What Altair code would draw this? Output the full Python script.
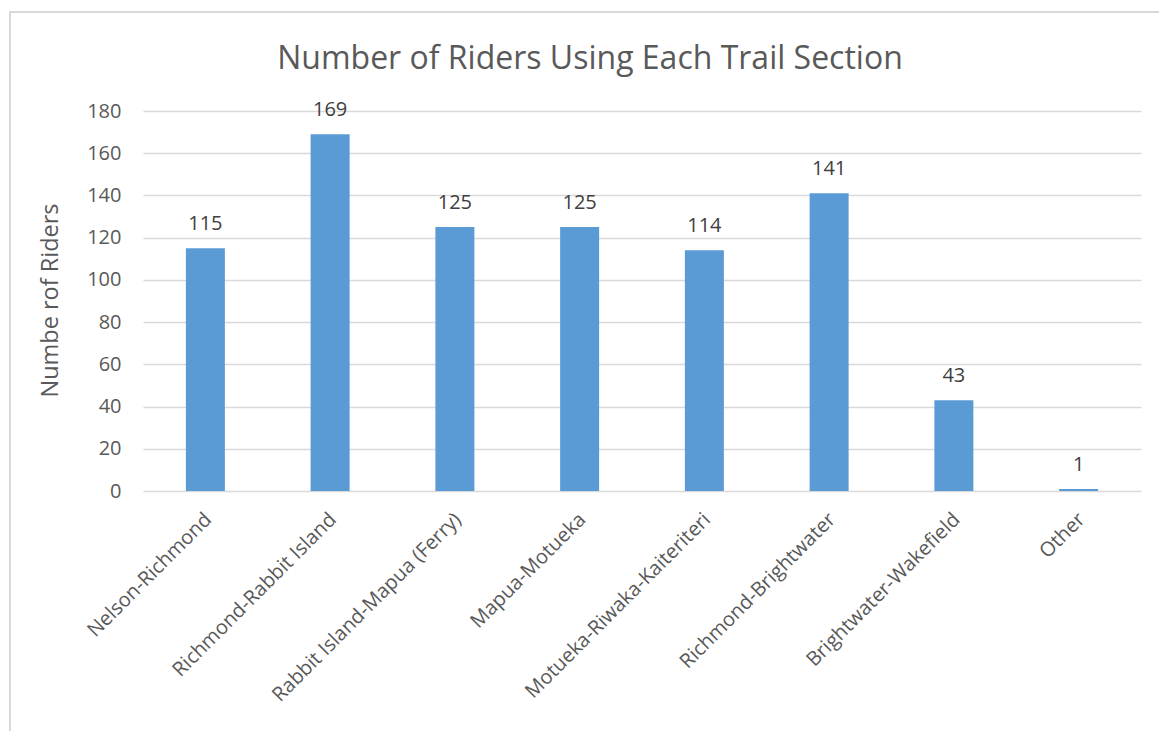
import altair as alt
import pandas as pd

sections = [
    "Nelson-Richmond",
    "Richmond-Rabbit Island",
    "Rabbit Island-Mapua (Ferry)",
    "Mapua-Motueka",
    "Motueka-Riwaka-Kaiteriteri",
    "Richmond-Brightwater",
    "Brightwater-Wakefield",
    "Other",
]
riders = [115, 169, 125, 125, 114, 141, 43, 1]

df = pd.DataFrame({"section": sections, "riders": riders})

FONT = "Open Sans"
GREY = "#595959"

x = alt.X(
    "section:N",
    sort=sections,
    scale=alt.Scale(paddingInner=0, paddingOuter=0),
    axis=alt.Axis(
        title=None,
        labelAngle=-45,
        labelFont=FONT,
        labelFontSize=20,
        labelColor=GREY,
        labelPadding=18,
        labelOffset=-4,
        ticks=False,
        domain=False,
        labelLimit=400,
    ),
)
y = alt.Y(
    "riders:Q",
    scale=alt.Scale(domain=[0, 180], nice=False),
    axis=alt.Axis(
        title="Numbe rof Riders",
        values=list(range(0, 181, 20)),
        titleFont=FONT,
        titleFontSize=23.5,
        titleFontWeight="normal",
        titleColor=GREY,
        titleAngle=-90,
        titleX=-93,
        titleY=189,
        titleAlign="center",
        titleBaseline="middle",
        labelFont=FONT,
        labelFontSize=20,
        labelColor=GREY,
        labelPadding=22,
        ticks=False,
        domain=False,
        gridColor="#d9d9d9",
        gridWidth=1.3,
    ),
)

bars = alt.Chart(df).mark_bar(size=39, color="#5b9bd5").encode(x=x, y=y)

labels = alt.Chart(df).mark_text(
    font=FONT, fontSize=20, color="#404040", baseline="alphabetic", dy=-18
).encode(x=alt.X("section:N", sort=sections), y="riders:Q", text="riders:Q")

frame = alt.Chart(df).mark_rect(
    fill=None, stroke="#d9d9d9", strokeWidth=1.5, clip=False
).encode(
    x=alt.value(-133), x2=alt.value(1040), y=alt.value(-99), y2=alt.value(700)
)

chart = (
    alt.layer(frame, bars, labels)
    .properties(
        width=998,
        height=380,
        padding={"left": 143, "top": 111, "right": 18, "bottom": 240},
        autosize=alt.AutoSizeParams(type="none"),
        title=alt.TitleParams(
            "Number of Riders Using Each Trail Section",
            font=FONT,
            fontSize=32,
            fontWeight="normal",
            color=GREY,
            anchor="middle",
            baseline="alphabetic",
            offset=-90,
            dx=-52,
        ),
    )
    .configure_view(stroke=None)
)

chart.save("out.html", embed_options={"renderer": "svg", "actions": False})
